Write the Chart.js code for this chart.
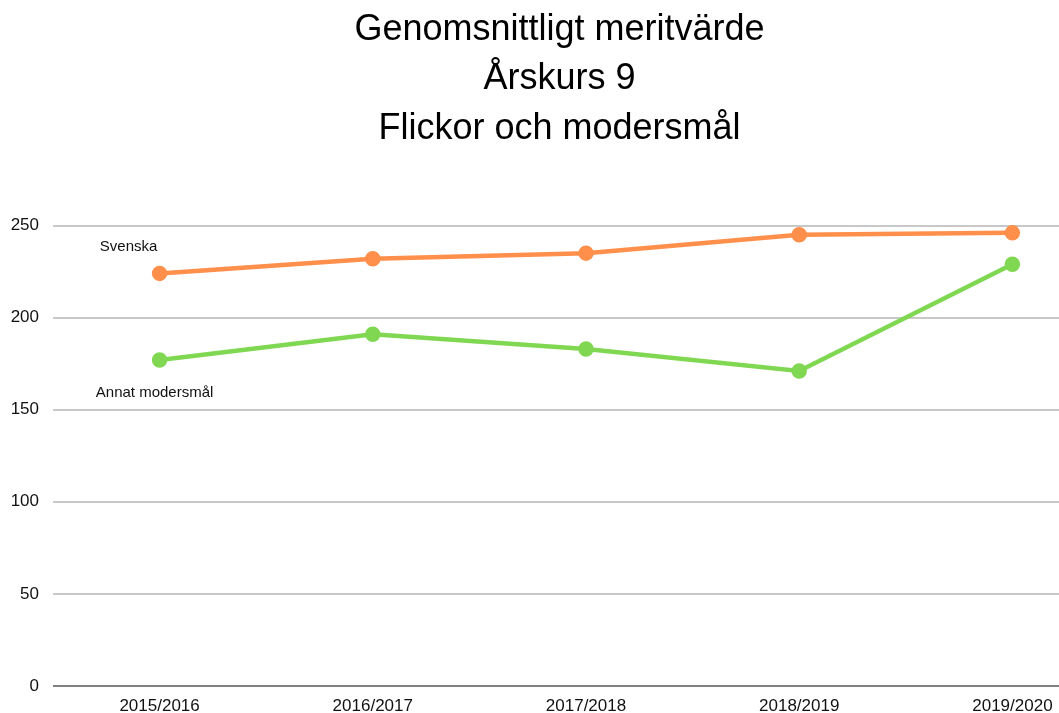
<!DOCTYPE html>
<html>
<head>
<meta charset="utf-8">
<script src="https://cdn.jsdelivr.net/npm/chart.js@4/dist/chart.umd.min.js"></script>
<style>
  html, body { margin: 0; padding: 0; overflow: hidden; background: #fff; }
  #wrap { position: absolute; left: 0; top: 0; width: 1119px; height: 722px; }
</style>
</head>
<body>
<div id="wrap"><canvas id="c"></canvas></div>
<script>
const categories = ['2015/2016', '2016/2017', '2017/2018', '2018/2019', '2019/2020'];
const svenska = [224, 232, 235, 245, 246];
const annat = [177, 191, 183, 171, 229];
const seriesNames = ['Svenska', 'Annat modersmål'];
const titleLines = ['Genomsnittligt meritvärde', 'Årskurs 9', 'Flickor och modersmål'];

const seriesLabels = {
  id: 'seriesLabels',
  afterDatasetsDraw(chart) {
    const ctx = chart.ctx;
    ctx.save();
    ctx.font = '15px "Liberation Sans", Arial, sans-serif';
    ctx.fillStyle = '#111';
    ctx.textAlign = 'center';
    ctx.textBaseline = 'middle';
    const offs = [[-31, -27], [-5, 33]];
    chart.data.datasets.forEach((ds, i) => {
      const p = chart.getDatasetMeta(i).data[0];
      ctx.fillText(ds.label, p.x + offs[i][0], p.y + offs[i][1]);
    });
    ctx.restore();
  }
};

new Chart(document.getElementById('c'), {
  type: 'line',
  data: {
    labels: categories,
    datasets: [
      { label: seriesNames[0], data: svenska, borderColor: '#ff8f4a', backgroundColor: '#ff8f4a',
        borderWidth: 4.5, pointRadius: 5.5, pointHoverRadius: 5.5, tension: 0, clip: false },
      { label: seriesNames[1], data: annat, borderColor: '#80d852', backgroundColor: '#80d852',
        borderWidth: 4.5, pointRadius: 5.5, pointHoverRadius: 5.5, tension: 0, clip: false }
    ]
  },
  options: {
    responsive: true,
    maintainAspectRatio: false,
    animation: false,
    layout: { autoPadding: false, padding: { left: 0, right: 0, top: 0, bottom: 0 } },
    plugins: {
      legend: { display: false },
      tooltip: { enabled: false },
      title: {
        display: true,
        text: titleLines,
        color: '#000',
        font: { family: '"Liberation Sans", Arial, sans-serif', size: 36, weight: 'normal', lineHeight: 1.375 },
        padding: { top: 5, bottom: 72 }
      }
    },
    scales: {
      x: {
        offset: true,
        grid: { display: false, drawTicks: false },
        border: { display: false },
        ticks: { color: '#111', font: { family: '"Liberation Sans", Arial, sans-serif', size: 17 }, padding: 10, maxRotation: 0 },
        afterFit(scale) { scale.height = 36; }
      },
      y: {
        min: 0, max: 250,
        ticks: { stepSize: 50, color: '#111', font: { family: '"Liberation Sans", Arial, sans-serif', size: 17 }, padding: 14 },
        grid: {
          drawTicks: false,
          lineWidth: 2,
          color: (c) => c.tick && c.tick.value === 0 ? '#808080' : '#c8c8c8'
        },
        border: { display: false },
        afterFit(scale) { scale.width = 53; }
      }
    }
  },
  plugins: [seriesLabels]
});
</script>
</body>
</html>
